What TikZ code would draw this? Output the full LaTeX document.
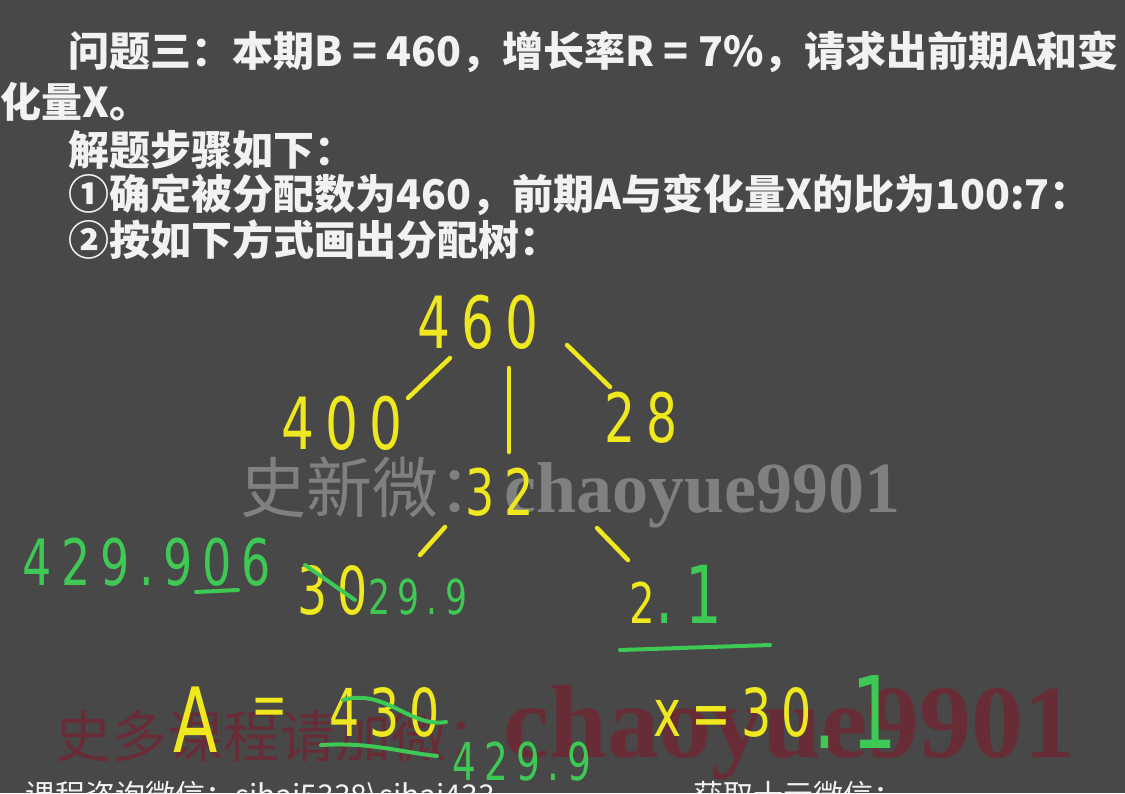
\documentclass[tikz,border=0pt]{standalone}
\usepackage{fontspec}
\usetikzlibrary{positioning,calc}

\setmainfont{Noto Sans CJK SC}
\newfontfamily\cjk{Noto Sans CJK SC}
\newfontfamily\hand{DejaVu Sans}[FakeStretch=0.72,LetterSpace=15]
\newfontfamily\wmlatin{Liberation Serif}

\definecolor{board}{RGB}{72,72,72}
\definecolor{chalk}{RGB}{242,242,242}
\definecolor{penyellow}{RGB}{240,232,30}
\definecolor{pengreen}{RGB}{62,200,84}
\definecolor{wmgray}{RGB}{128,128,128}
\definecolor{wmred}{RGB}{112,38,50}

\tikzset{%
  text line/.style={
    anchor=west,
    inner sep=0pt,
    text=chalk,
    font=\cjk\bfseries\fontsize{41}{41}\selectfont
  },
  yellow num/.style={
    inner sep=0pt,
    text=penyellow,
    font=\hand\fontsize{#1}{#1}\selectfont
  },
  green num/.style={
    inner sep=0pt,
    text=pengreen,
    font=\hand\fontsize{#1}{#1}\selectfont
  },
  branch/.style={draw=penyellow, line width=4.5pt, line cap=round},
  green mark/.style={draw=pengreen, line width=4pt, line cap=round},
}

\begin{document}
\begin{tikzpicture}[x=1pt, y=-1pt]

\useasboundingbox (0,0) rectangle (1125,793);
\fill [board] (0,0) rectangle (1125,793);
\clip (0,0) rectangle (1125,793);

% watermarks
\node [anchor=west, inner sep=0pt, text=wmgray, font=\cjk\fontsize{66}{66}\selectfont]
  (wm-top) at (240,492) {史新微：{\wmlatin\bfseries\fontsize{72}{72}\selectfont chaoyue9901}};
\node [anchor=west, inner sep=0pt, text=wmred, opacity=0.8, font=\cjk\fontsize{56}{56}\selectfont]
  (wm-bottom) at (55,733) {史多课程请加微：{\wmlatin\bfseries\fontsize{104}{104}\selectfont chaoyue9901}};

% contact lines, cut by the lower edge
\node [anchor=north west, inner sep=0pt, text=chalk, font=\cjk\fontsize{30}{30}\selectfont]
  (contact-l) at (25,781) {课程咨询微信：sihai5338\textbackslash sihai433};
\node [anchor=north west, inner sep=0pt, text=chalk, font=\cjk\fontsize{30}{30}\selectfont]
  (contact-r) at (693,781) {获取十元微信：};

% question text
\foreach \x/\y/\t [count=\i] in {%
    68/52/{问题三：本期B = 460，增长率R = 7\%，请求出前期A和变},
    0/102/{化量X。},
    68/150/{解题步骤如下：},
    68/195/{①确定被分配数为460，前期A与变化量X的比为100:7：},
    68/240/{②按如下方式画出分配树：}}
  \node [text line] (line-\i) at (\x,\y) {\t};

% distribution tree
\node [yellow num=72] (n460) at (478,322) {460};
\node [yellow num=72] (n400) at (342,423) {400};
\node [yellow num=68] (n28) at (641,418) {28};
\node [yellow num=64] (n32) at (500,492) {32};
\node [yellow num=66] (n30) at (333,590) {30};
\node [green num=48, anchor=base west] (n299) at (n30.base east) {29.9};
\node [yellow num=56] (n2) at (642,603) {2};
\node [green num=80, anchor=base west] (n21) at (n2.base east) {.1};

\draw [branch] ($(n460)+(-28,36)$) -- ($(n400)+(66,-25)$);
\draw [branch] ($(n460)+(31,46)$) -- ($(n32)+(9,-40)$);
\draw [branch] ($(n460)+(89,23)$) -- ($(n28)+(-31,-31)$);
\draw [branch] ($(n32)+(-55,35)$) -- ($(n30)+(87,-35)$);
\draw [branch] ($(n32)+(97,36)$) -- ($(n2)+(-14,-43)$);

% corrections
\draw [green mark] (305,565) -- (355,600);
\draw [green mark] (620,650) -- (770,645);
\node [green num=64] (n429906) at (147,562) {429.906};
\draw [green mark] (196,592) -- (238,590);

% results
\node [yellow num=90] (nA) at (196,720) {A};
\node [yellow num=60] (neq) at (270,712) {=};
\node [yellow num=66] (n430) at (385,712) {430};
\draw [green mark] (343,700) .. controls (385,688) and (410,728) .. (446,722);
\draw [green mark] (321,745) .. controls (370,742) and (400,752) .. (437,756);
\node [green num=52] (n4299) at (522,762) {429.9};
\node [yellow num=66] (nx) at (733,712) {x=30};
\node [green num=100] (nx1) at (855,712) {.1};

\end{tikzpicture}
\end{document}
